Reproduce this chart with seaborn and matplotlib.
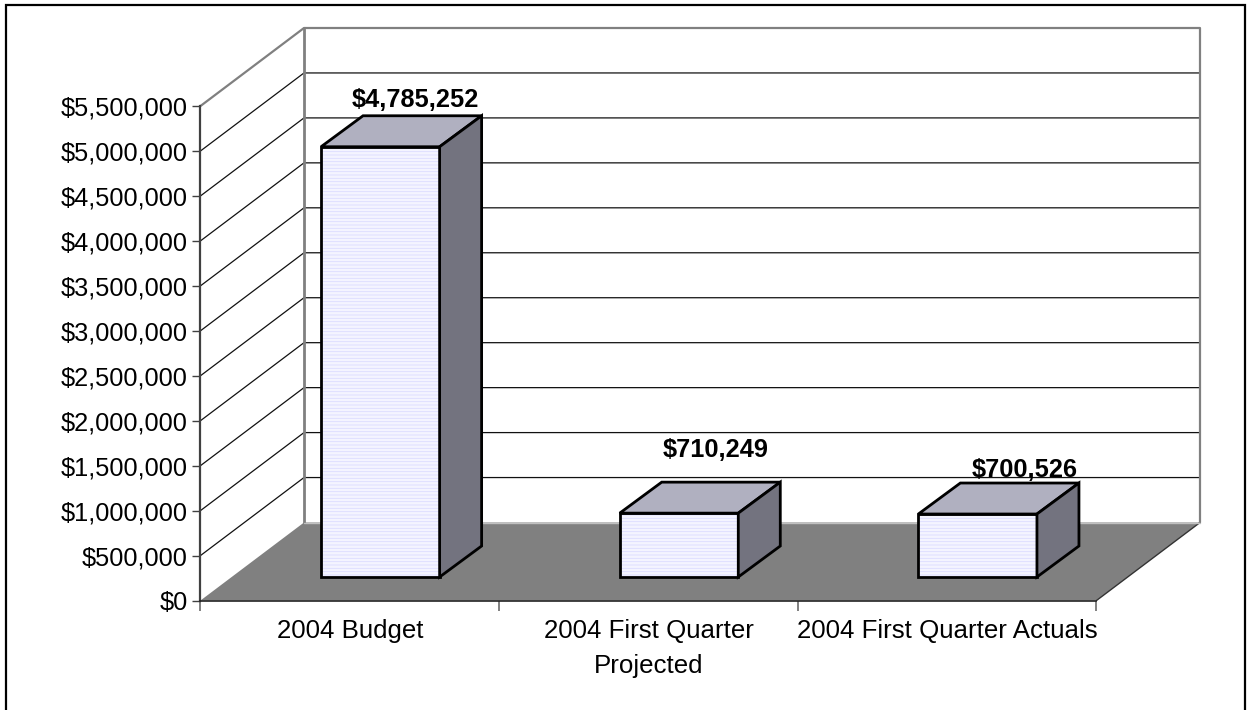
import matplotlib
matplotlib.use('Agg')
import matplotlib.pyplot as plt
from matplotlib.patches import Polygon, Rectangle
import seaborn as sns
import pandas as pd

categories = ['2004 Budget', '2004 First Quarter\nProjected', '2004 First Quarter Actuals']
values = [4785252, 710249, 700526]
value_labels = ['$4,785,252', '$710,249', '$700,526']
tick_values = [0, 500000, 1000000, 1500000, 2000000, 2500000, 3000000,
               3500000, 4000000, 4500000, 5000000, 5500000]
tick_labels = ['$0', '$500,000', '$1,000,000', '$1,500,000', '$2,000,000', '$2,500,000',
               '$3,000,000', '$3,500,000', '$4,000,000', '$4,500,000', '$5,000,000', '$5,500,000']

W, H = 1249, 710
# pixel layout of the fake 3d box
FRONT_L, FRONT_R, FRONT_B, FRONT_T = 200.5, 1096.5, 600.5, 106
WALL_DX, WALL_DY = 103.5, -78
BAR_DX, BAR_DY = 42, -31
BAR_SHIFT_X, BAR_SHIFT_Y = 30.5, -23.5
BAR_WIDTH = 0.397
FONT_SIZE = 18.3
# where each value label sits relative to the back top of its bar
LABEL_SHIFT = [(14, -16), (16, -32), (26, -13)]

sns.set_theme(style='white')
plt.rcParams['font.family'] = ['Liberation Sans', 'DejaVu Sans']
plt.rcParams['hatch.linewidth'] = 0.6


def axes_rect(l, r, b, t):
    return [l / W, 1 - b / H, (r - l) / W, (b - t) / H]


def main():
    fig = plt.figure(figsize=(W / 100, H / 100), dpi=100, facecolor='white')

    # overlay in pixel coordinates for everything the 3d look needs
    bg = fig.add_axes([0, 0, 1, 1], zorder=0)
    bg.set_xlim(0, W)
    bg.set_ylim(H, 0)
    bg.axis('off')

    # chart area border, open at the bottom like the source
    bg.plot([6, 6, 1245, 1245], [H + 5, 5, 5, H + 5], color='black', lw=1.6, solid_joinstyle='miter')

    ax = fig.add_axes(axes_rect(FRONT_L, FRONT_R, FRONT_B, FRONT_T), zorder=1)
    ax.patch.set_alpha(0)
    ax.set_ylim(0, 5500000)
    ax.set_xlim(-0.5, 2.5)
    ax.set_xticks([-0.5, 0.5, 1.5, 2.5], labels=[])
    ax.set_xticks([0, 1, 2], labels=categories, minor=True)
    ax.set_yticks(tick_values, labels=tick_labels)
    ax.tick_params(axis='y', length=6, width=1, color='#404040', labelsize=FONT_SIZE,
                   labelcolor='black', pad=3, left=True)
    ax.tick_params(axis='x', which='major', length=7, width=1.4, color='#808080', bottom=True)
    ax.tick_params(axis='x', which='minor', length=0, labelsize=18.6, labelcolor='black', pad=13)
    for lab in ax.get_xticklabels(minor=True):
        lab.set_linespacing(1.62)
    for s in ['top', 'right']:
        ax.spines[s].set_visible(False)
    ax.spines['left'].set_color('#404040')
    ax.spines['left'].set_linewidth(1.6)
    ax.spines['bottom'].set_color('#222222')
    ax.spines['bottom'].set_linewidth(1.2)

    def y_px(v):
        return FRONT_B + (FRONT_T - FRONT_B) * v / tick_values[-1]

    # floor
    bg.add_patch(Polygon([(FRONT_L, FRONT_B), (FRONT_L + WALL_DX, FRONT_B + WALL_DY),
                          (FRONT_R + WALL_DX, FRONT_B + WALL_DY), (FRONT_R, FRONT_B)],
                         facecolor='#808080', edgecolor='none'))
    bg.plot([FRONT_R, FRONT_R + WALL_DX], [FRONT_B, FRONT_B + WALL_DY], color='#333333', lw=1)

    # gridlines on side and back wall
    for v in tick_values[1:-1]:
        y = y_px(v)
        bg.plot([FRONT_L, FRONT_L + WALL_DX, FRONT_R + WALL_DX],
                [y, y + WALL_DY, y + WALL_DY], color='#111111', lw=0.9)

    # wall frame
    top = y_px(tick_values[-1])
    bg.plot([FRONT_L, FRONT_L + WALL_DX, FRONT_R + WALL_DX, FRONT_R + WALL_DX],
            [top, top + WALL_DY, top + WALL_DY, FRONT_B + WALL_DY], color='#808080', lw=1.6)
    bg.plot([FRONT_L + WALL_DX] * 2, [top + WALL_DY, FRONT_B + WALL_DY], color='#808080', lw=2)
    bg.plot([FRONT_L + WALL_DX, FRONT_R + WALL_DX], [FRONT_B + WALL_DY] * 2, color='#c0c0c0', lw=1)

    # bars, front faces come from seaborn on axes moved into the box
    df = pd.DataFrame({'category': categories, 'value': values})
    ax_bars = fig.add_axes(axes_rect(FRONT_L + BAR_SHIFT_X, FRONT_R + BAR_SHIFT_X,
                                     FRONT_B + BAR_SHIFT_Y, FRONT_T + BAR_SHIFT_Y), zorder=2)
    ax_bars.patch.set_alpha(0)
    sns.barplot(data=df, x='category', y='value', ax=ax_bars, width=BAR_WIDTH,
                color='white', saturation=1, legend=False)
    ax_bars.set_xlim(-0.5, 2.5)
    ax_bars.set_ylim(0, 5500000)
    ax_bars.axis('off')

    fig.canvas.draw()
    overlay = fig.add_axes([0, 0, 1, 1], zorder=3)
    overlay.set_xlim(0, W)
    overlay.set_ylim(H, 0)
    overlay.axis('off')

    for bar, text, shift in zip(ax_bars.patches, value_labels, LABEL_SHIFT):
        bar.set_facecolor('#f4f4ff')
        bar.set_edgecolor('#dcdcff')
        bar.set_hatch('-----')
        bar.set_linewidth(0)
        (x0, y0), (x1, y1) = ax_bars.transData.transform(bar.get_bbox().get_points())
        l, r, b, t = x0, x1, H - y0, H - y1
        overlay.add_patch(Rectangle((l, t), r - l, b - t, fill=False, edgecolor='black', lw=2))
        overlay.add_patch(Polygon([(l, t), (l + BAR_DX, t + BAR_DY), (r + BAR_DX, t + BAR_DY), (r, t)],
                                  facecolor='#b0b0c0', edgecolor='black', lw=2, joinstyle='miter'))
        overlay.add_patch(Polygon([(r, t), (r + BAR_DX, t + BAR_DY), (r + BAR_DX, b + BAR_DY), (r, b)],
                                  facecolor='#73737f', edgecolor='black', lw=2, joinstyle='miter'))
        overlay.text((l + r) / 2 + BAR_DX / 2 + shift[0], t + BAR_DY + shift[1], text,
                     ha='center', va='center', fontsize=FONT_SIZE, fontweight='bold', color='black')

    fig.savefig('out.png', dpi=100)
    plt.close(fig)


if __name__ == '__main__':
    main()
